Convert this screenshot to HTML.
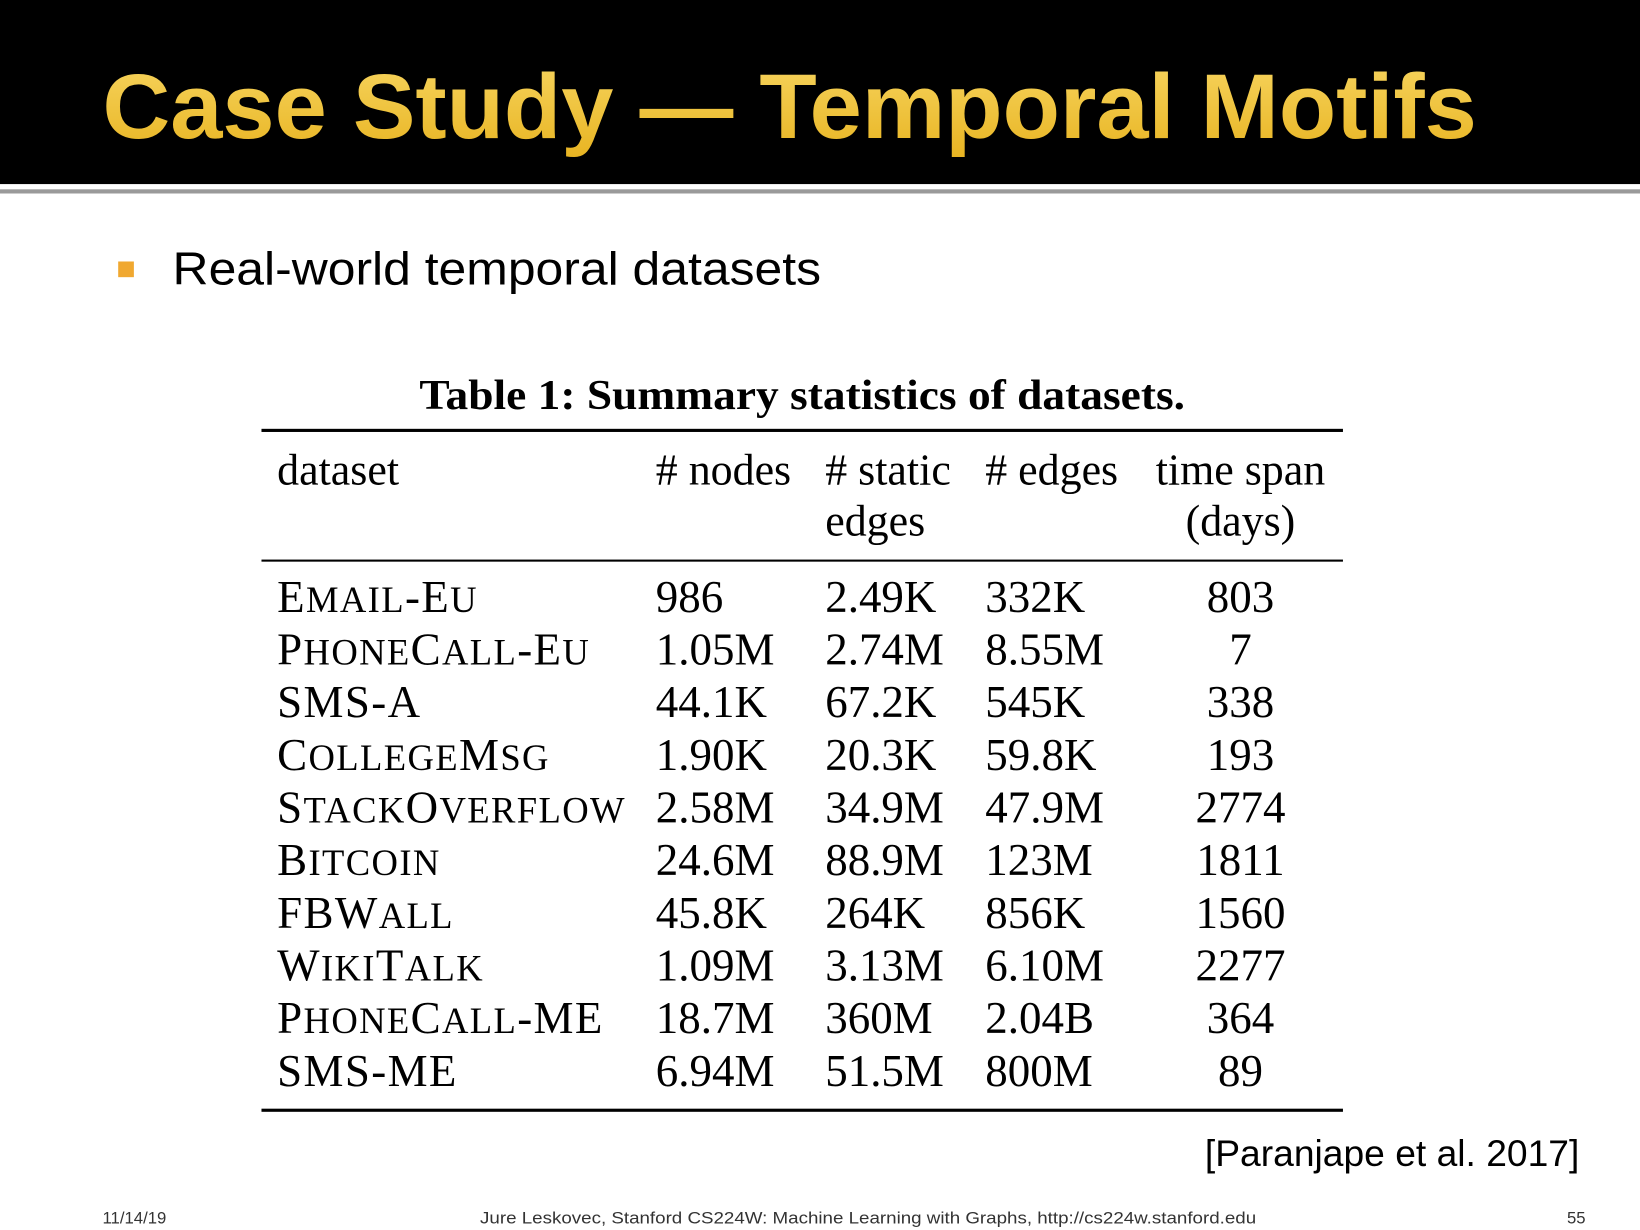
<!DOCTYPE html>
<html><head><meta charset="utf-8"><style>
html,body{margin:0;padding:0;background:#fff;}
svg{display:block;}
</style></head><body>
<svg width="1640" height="1230" viewBox="0 0 1568 1176" xmlns="http://www.w3.org/2000/svg">
<defs><linearGradient id="gold" x1="0" y1="0" x2="0" y2="1"><stop offset="0" stop-color="#f7d560"/><stop offset="1" stop-color="#e8b422"/></linearGradient></defs>
<rect x="0" y="0" width="1568" height="176" fill="#000"/>
<rect x="0" y="181" width="1568" height="4" fill="#9a9a9a"/>
<text x="98" y="132" font-family="Liberation Sans, sans-serif" font-weight="bold" font-size="88" fill="url(#gold)" textLength="1314" lengthAdjust="spacingAndGlyphs">Case Study — Temporal Motifs</text>
<rect x="113" y="250" width="15" height="15" fill="#f0a830"/>
<text x="165" y="272" font-family="Liberation Sans, sans-serif" font-size="44" fill="#000" textLength="620" lengthAdjust="spacingAndGlyphs">Real-world temporal datasets</text>
<text x="767" y="391" text-anchor="middle" font-family="Liberation Serif, serif" font-weight="bold" font-size="40" fill="#000" textLength="732" lengthAdjust="spacingAndGlyphs">Table 1: Summary statistics of datasets.</text>
<rect x="250" y="410" width="1034" height="3" fill="#000"/>
<rect x="250" y="535" width="1034" height="2" fill="#000"/>
<rect x="250" y="1060" width="1034" height="3" fill="#000"/>
<g font-family="Liberation Serif, serif" font-size="42" fill="#000">
<text x="265" y="463">dataset</text>
<text x="627" y="463"># nodes</text>
<text x="789" y="463"># static</text>
<text x="789" y="512">edges</text>
<text x="942" y="463"># edges</text>
<text x="1186" y="463" text-anchor="middle">time span</text>
<text x="1186" y="512" text-anchor="middle">(days)</text>
</g>
<g id="rows" font-family="Liberation Serif, serif" font-size="43" fill="#000"></g>
<text x="1510" y="1115" text-anchor="end" font-family="Liberation Sans, sans-serif" font-size="35" fill="#000" textLength="358" lengthAdjust="spacingAndGlyphs">[Paranjape et al. 2017]</text>
<g font-family="Liberation Sans, sans-serif" font-size="16" fill="#333">
<text x="98" y="1170">11/14/19</text>
<text x="830" y="1170" text-anchor="middle" textLength="742" lengthAdjust="spacingAndGlyphs">Jure Leskovec, Stanford CS224W: Machine Learning with Graphs, http://cs224w.stanford.edu</text>
<text x="1516" y="1170" text-anchor="end">55</text>
</g>
</svg>
<script>
const datasets=["Email-Eu","PhoneCall-Eu","SMS-A","CollegeMsg","StackOverflow","Bitcoin","FBWall","WikiTalk","PhoneCall-ME","SMS-ME"];
const nodes=["986","1.05M","44.1K","1.90K","2.58M","24.6M","45.8K","1.09M","18.7M","6.94M"];
const staticEdges=["2.49K","2.74M","67.2K","20.3K","34.9M","88.9M","264K","3.13M","360M","51.5M"];
const edges=["332K","8.55M","545K","59.8K","47.9M","123M","856K","6.10M","2.04B","800M"];
const timeSpan=["803","7","338","193","2774","1811","1560","2277","364","89"];
const NS="http://www.w3.org/2000/svg";
const g=document.getElementById('rows');
function rowY(i){return 585+i*50.35;}
function addText(x,y,txt,anchor,name){
  const t=document.createElementNS(NS,'text');
  t.setAttribute('x',x);t.setAttribute('y',y);
  if(anchor)t.setAttribute('text-anchor',anchor);
  t.textContent=txt;
  
  
  g.appendChild(t);
  return t;
}
function addSmallCaps(x,y,txt){
  const t=document.createElementNS(NS,'text');
  t.setAttribute('x',x);t.setAttribute('y',y);
  t.setAttribute('letter-spacing','1.3');
  
  
  const runs=txt.match(/[a-z]+|[^a-z]+/g);
  runs.forEach(r=>{
    const s=document.createElementNS(NS,'tspan');
    if(/[a-z]/.test(r[0])){s.setAttribute('font-size','35');s.textContent=r.toUpperCase();}
    else s.textContent=r;
    t.appendChild(s);
  });
  g.appendChild(t);
}
datasets.forEach((d,i)=>{
  const y=rowY(i);
  addSmallCaps(265,y,d);
  addText(627,y,nodes[i],null,'cell-nodes');
  addText(789,y,staticEdges[i],null,'cell-static-edges');
  addText(942,y,edges[i],null,'cell-edges');
  addText(1186,y,timeSpan[i],'middle','cell-time-span');
});
</script>
</body></html>
